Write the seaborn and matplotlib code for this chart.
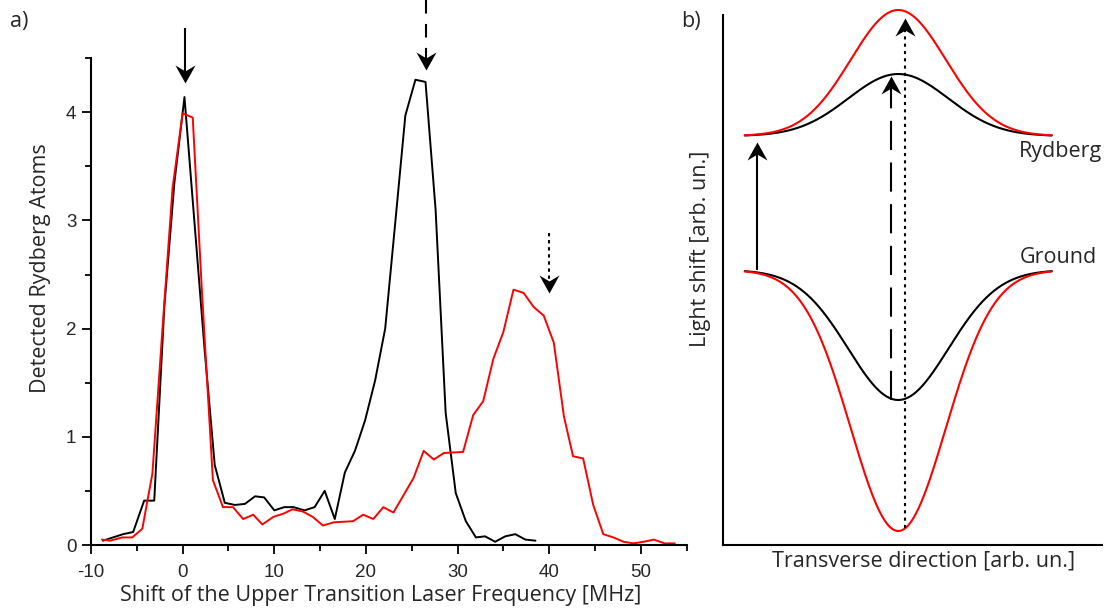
import numpy as np
import matplotlib
matplotlib.use("Agg")
import matplotlib.pyplot as plt
from matplotlib.path import Path
from matplotlib.ticker import MultipleLocator
import seaborn as sns

# ---------------- data: panel a ----------------
black_x = [-8.7, -7.6, -6.5, -5.4, -4.2, -3.1, -2.0, -0.9, 0.2, 1.3, 2.4, 3.5, 4.6, 5.7,
           6.8, 7.9, 8.9, 10.0, 11.1, 12.1, 13.3, 14.4, 15.5, 16.6, 17.7, 18.8, 19.9,
           21.0, 22.1, 23.2, 24.3, 25.4, 26.5, 27.6, 28.7, 29.8, 30.9, 32.0, 33.0,
           34.1, 35.2, 36.3, 37.4, 38.5]
black_y = [0.04, 0.07, 0.10, 0.12, 0.41, 0.41, 2.2, 3.35, 4.14, 2.97, 1.8, 0.74, 0.39, 0.37,
           0.38, 0.45, 0.44, 0.32, 0.35, 0.35, 0.32, 0.35, 0.50, 0.24, 0.67, 0.87, 1.15,
           1.52, 2.0, 2.98, 3.97, 4.30, 4.28, 3.10, 1.22, 0.48, 0.22, 0.07, 0.08,
           0.03, 0.08, 0.10, 0.05, 0.04]
red_x = [-8.8, -7.9, -6.6, -5.5, -4.4, -3.3, -2.2, -1.1, 0.0, 1.1, 2.1, 3.3, 4.4, 5.5,
         6.6, 7.7, 8.7, 9.9, 11.0, 12.0, 13.1, 14.2, 15.3, 16.5, 17.6, 18.6, 19.7, 20.8,
         21.9, 23.0, 24.1, 25.2, 26.3, 27.4, 28.5, 29.5, 30.6, 31.7, 32.8, 33.9, 35.0,
         36.1, 37.2, 38.3, 39.4, 40.5, 41.6, 42.6, 43.7, 44.8, 45.9, 47.0, 48.1, 49.2,
         50.3, 51.4, 52.6, 53.7]
red_y = [0.05, 0.04, 0.07, 0.07, 0.15, 0.66, 2.0, 3.3, 3.99, 3.95, 2.35, 0.60, 0.35, 0.35,
         0.24, 0.28, 0.19, 0.26, 0.29, 0.33, 0.31, 0.26, 0.18, 0.21, 0.215, 0.22, 0.28, 0.24,
         0.35, 0.30, 0.46, 0.62, 0.87, 0.79, 0.85, 0.855, 0.86, 1.20, 1.33, 1.72, 1.97,
         2.36, 2.33, 2.20, 2.12, 1.87, 1.19, 0.82, 0.80, 0.37, 0.10, 0.07, 0.03, 0.015,
         0.03, 0.05, 0.015, 0.015]
x_ticks = [-10, 0, 10, 20, 30, 40, 50]
y_ticks = [0, 1, 2, 3, 4]

# arrows in panel a: (x, y_top, y_tip)
arrow_a_x = [0.3, 26.6, 40.0]
arrow_a_top = [4.78, 5.04, 2.88]
arrow_a_tip = [4.27, 4.39, 2.33]

# ---------------- data: panel b (schematic gaussians) ----------------
rydberg_level = 4.09
ground_level = 2.75
black_amp_ryd, black_amp_gnd, black_sigma = 0.62, 1.30, 1.0
red_amp_ryd, red_amp_gnd, red_sigma = 1.26, 2.61, 0.95
x_extent = 3.07
# arrows in panel b: (x, y_start, y_tip)
arrow_b_x = [-2.82, -0.15, 0.134]
arrow_b_start = [2.75, 1.45, 0.17]
arrow_b_tip = [4.03, 4.69, 5.27]

sns.set_style("ticks")
plt.rcParams['font.family'] = ['Open Sans', 'DejaVu Sans']
plt.rcParams['axes.unicode_minus'] = False
LABEL_FS = 15.5

fig = plt.figure(figsize=(11.11, 6.12), dpi=100)
W, H = 1111.0, 612.0
axa = fig.add_axes([91 / W, 67 / H, 595.7 / W, 486.9 / H])
axb = fig.add_axes([723.3 / W, 67 / H, 378.4 / W, 530 / H])


def head_marker(down=True, w=20.0, l=18.0, notch=6.0):
    s = 1.0 if down else -1.0
    verts = [(0, 0), (-w / 2, s * l), (0, s * (l - notch)), (w / 2, s * l), (0, 0)]
    codes = [Path.MOVETO, Path.LINETO, Path.LINETO, Path.LINETO, Path.CLOSEPOLY]
    return Path(verts, codes)


HEAD_MS = 26
tick_family = ['Liberation Sans', 'DejaVu Sans']
tick_size = 13.5

# ---------------- panel a ----------------
sns.lineplot(x=black_x, y=black_y, color='black', lw=1.4, ax=axa, estimator=None, sort=False)
sns.lineplot(x=red_x, y=red_y, color='#ff0000', lw=1.4, ax=axa, estimator=None, sort=False)
axa.set_xlim(-10, 55)
axa.set_ylim(0, 4.5)
axa.set_xticks(x_ticks)
axa.set_yticks(y_ticks)
axa.xaxis.set_minor_locator(MultipleLocator(5))
axa.yaxis.set_minor_locator(MultipleLocator(0.5))
for lab in axa.get_xticklabels() + axa.get_yticklabels():
    lab.set_fontfamily(tick_family)
    lab.set_fontsize(tick_size)
axa.tick_params(which='major', direction='out', length=6.5, width=1.3, color='black')
axa.tick_params(which='minor', direction='out', length=4, width=1.3, color='black')
axa.tick_params(axis='x', which='major', pad=7)
axa.tick_params(axis='y', which='major', pad=4)
sns.despine(ax=axa)
for sp in ['left', 'bottom']:
    axa.spines[sp].set_linewidth(1.5)
    axa.spines[sp].set_color('black')
axa.set_xlabel('Shift of the Upper Transition Laser Frequency [MHz]', fontsize=LABEL_FS)
axa.xaxis.set_label_coords(0.487, -0.082)
axa.set_ylabel('Detected Rydberg Atoms', fontsize=LABEL_FS, va='center', ha='center',
               rotation_mode='anchor')
axa.yaxis.set_label_coords(-0.0856, 0.568)

for xx, yt, yp, ls in zip(arrow_a_x, arrow_a_top, arrow_a_tip,
                          ['-', (0, (6.5, 5.0)), (0, (1.6, 1.8))]):
    axa.plot([xx, xx], [yt, yp + 0.09], color='black', lw=1.5, ls=ls,
             clip_on=False, solid_capstyle='butt', dash_capstyle='butt')
    axa.plot([xx], [yp], marker=head_marker(True), ms=HEAD_MS, color='black',
             mew=0, ls='none', clip_on=False)

fig.text(10 / W, 1 - 21 / H, 'a)', fontsize=LABEL_FS, va='center', ha='left')
fig.text(681 / W, 1 - 21 / H, 'b)', fontsize=LABEL_FS, va='center', ha='left')

# ---------------- panel b ----------------
xs = np.linspace(-x_extent, x_extent, 400)
g_black = np.exp(-xs ** 2 / (2 * black_sigma ** 2))
g_red = np.exp(-xs ** 2 / (2 * red_sigma ** 2))
sns.lineplot(x=xs, y=rydberg_level + black_amp_ryd * g_black, color='black', lw=1.5,
             ax=axb, estimator=None, sort=False)
sns.lineplot(x=xs, y=ground_level - black_amp_gnd * g_black, color='black', lw=1.5,
             ax=axb, estimator=None, sort=False)
sns.lineplot(x=xs, y=rydberg_level + red_amp_ryd * g_red, color='#ff0000', lw=1.5,
             ax=axb, estimator=None, sort=False)
sns.lineplot(x=xs, y=ground_level - red_amp_gnd * g_red, color='#ff0000', lw=1.5,
             ax=axb, estimator=None, sort=False)
for ln in axb.get_lines():
    ln.set_clip_on(False)

axb.set_xlim(-3.5, 4.068)
axb.set_ylim(0, 5.3)
axb.set_xticks([])
axb.set_yticks([])
sns.despine(ax=axb)
for sp in ['left', 'bottom']:
    axb.spines[sp].set_linewidth(1.5)
    axb.spines[sp].set_color('black')

for xx, ys, yt, ls in zip(arrow_b_x, arrow_b_start, arrow_b_tip,
                          ['-', (0, (14, 6)), (0, (1.5, 2.0))]):
    axb.plot([xx, xx], [ys, yt - 0.09], color='black', lw=1.5, ls=ls,
             clip_on=False, solid_capstyle='butt', dash_capstyle='butt')
    axb.plot([xx], [yt], marker=head_marker(False), ms=HEAD_MS, color='black',
             mew=0, ls='none', clip_on=False)

axb.text(2.42, 3.93, 'Rydberg', fontsize=LABEL_FS, ha='left', va='center')
axb.text(2.42, 2.87, 'Ground', fontsize=LABEL_FS, ha='left', va='center')
axb.set_xlabel('Transverse direction [arb. un.]', fontsize=LABEL_FS)
axb.xaxis.set_label_coords(0.530, -0.010)
axb.set_ylabel('Light shift [arb. un.]', fontsize=LABEL_FS, va='center', ha='center',
               rotation_mode='anchor')
axb.yaxis.set_label_coords(-0.059, 0.5585)

fig.savefig('out.png', dpi=100)
